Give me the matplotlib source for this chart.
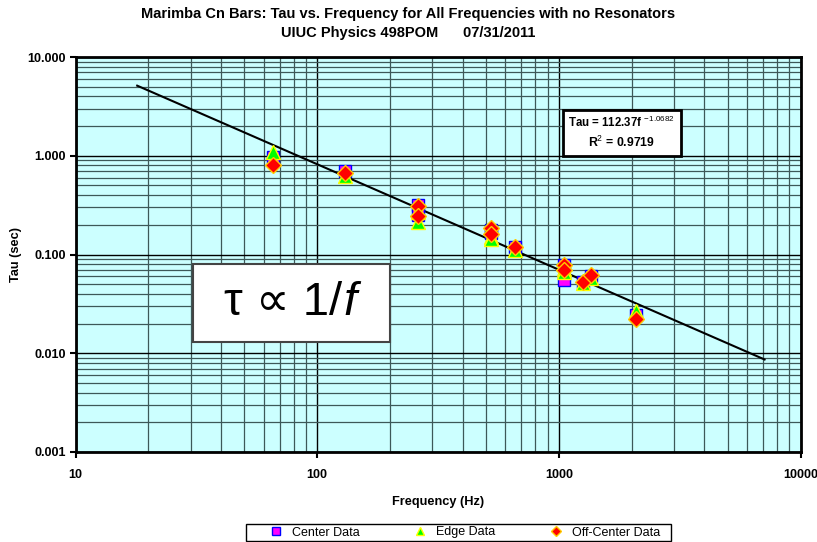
import matplotlib
matplotlib.use("Agg")
import matplotlib.pyplot as plt
from matplotlib.patches import Rectangle
from matplotlib.ticker import LogLocator, FixedLocator, NullFormatter
import numpy as np

plt.rcParams['font.family'] = ['Liberation Sans', 'DejaVu Sans']
plt.rcParams['mathtext.fontset'] = 'custom'
plt.rcParams['mathtext.rm'] = 'Liberation Sans'
plt.rcParams['mathtext.it'] = 'Liberation Sans:italic'
plt.rcParams['mathtext.bf'] = 'Liberation Sans:bold'
plt.rcParams['axes.unicode_minus'] = False

# ---- data ----
freq = [65.4, 130.8, 261.6, 261.6, 523.3, 523.3, 659.3, 1046.5, 1046.5, 1260, 1355, 2093]
tau_center = [0.98, 0.70, 0.318, 0.25, 0.175, 0.165, 0.12, 0.0785, 0.0553, 0.053, 0.060, 0.0245]
tau_edge = [1.10, 0.63, 0.27, 0.215, 0.15, 0.145, 0.112, 0.072, 0.066, 0.051, 0.058, 0.0265]
tau_off = [0.81, 0.67, 0.31, 0.245, 0.1845, 0.162, 0.119, 0.0785, 0.070, 0.0532, 0.0621, 0.0221]

fit_a = 112.37
fit_b = -1.0682
fit_r2 = 0.9719
fit_range = [18, 7100]

xticks = [10, 100, 1000, 10000]
xtick_labels = ["10", "100", "1000", "10000"]
yticks = [0.001, 0.01, 0.1, 1, 10]
ytick_labels = ["0.001", "0.010", "0.100", "1.000", "10.000"]

fig = plt.figure(figsize=(8.17, 5.42), dpi=100)
ax = fig.add_axes([75.5/817, 1-452/542, 725/817, 395/542])
ax.set_facecolor('#CCFFFF')
ax.set_xscale('log')
ax.set_yscale('log')
ax.set_xlim(10, 10000)
ax.set_ylim(0.001, 10)

ax.xaxis.set_major_locator(FixedLocator(xticks))
ax.yaxis.set_major_locator(FixedLocator(yticks))
ax.set_xticklabels(xtick_labels, fontsize=9, fontweight='bold')
ax.set_yticklabels(ytick_labels, fontsize=9, fontweight='bold')
ax.xaxis.set_minor_locator(LogLocator(base=10, subs=np.arange(2, 10)))
ax.yaxis.set_minor_locator(LogLocator(base=10, subs=np.arange(2, 10)))
ax.xaxis.set_minor_formatter(NullFormatter())
ax.yaxis.set_minor_formatter(NullFormatter())
ax.tick_params(which='major', direction='out', length=4, width=1.5, pad=8)
ax.tick_params(which='minor', length=0)
ax.tick_params(axis='y', pad=3)

ax.grid(which='major', color='black', linewidth=1.0)
ax.grid(which='minor', color='#3d5858', linewidth=0.9)
ax.set_axisbelow(True)
for s in ax.spines.values():
    s.set_linewidth(2)
    s.set_color('black')

# trendline
fx = np.geomspace(fit_range[0], fit_range[1], 200)
ax.plot(fx, fit_a * fx ** fit_b, color='black', lw=1.5, zorder=3)

ax.plot(freq, tau_center, linestyle='none', marker='s', ms=9, mfc='#FF00FF', mec='#0000FF',
        mew=1, label='Center Data', zorder=4)
ax.plot(freq, tau_edge, linestyle='none', marker='^', ms=9.5, mfc='#00FF00', mec='#FFFF00',
        mew=1, label='Edge Data', zorder=5)
ax.plot(freq, tau_off, linestyle='none', marker='D', ms=8, mfc='#FF0000', mec='#FFCC00',
        mew=1, label='Off-Center Data', zorder=6)

ax.set_xlabel('Frequency (Hz)', fontsize=9.2, fontweight='bold', labelpad=11)
ax.set_ylabel('Tau (sec)', fontsize=9.2, fontweight='bold', labelpad=4)

fig.text(0.5, 1-14/542, 'Marimba Cn Bars: Tau vs. Frequency for All Frequencies with no Resonators',
         ha='center', va='center', fontsize=10.5, fontweight='bold')
fig.text(0.5, 1-33/542, 'UIUC Physics 498POM      07/31/2011',
         ha='center', va='center', fontsize=10.5, fontweight='bold')

# equation box
fig.patches.append(Rectangle((563/817, 1-156/542), 118/817, 46/542, transform=fig.transFigure,
                             facecolor='white', edgecolor='black', linewidth=2, zorder=10))
fig.text(621/817, 1-122/542, r'Tau = %.2ff $^{\mathrm{%.4f}}$' % (fit_a, fit_b),
         ha='center', va='center', fontsize=8.3, fontweight='bold', zorder=11)
fig.text(621/817, 1-142/542, r'R$^{\mathrm{2}}$ = %.4f' % fit_r2,
         ha='center', va='center', fontsize=8.8, fontweight='bold', zorder=11)

# tau prop 1/f box
fig.patches.append(Rectangle((193/817, 1-342/542), 197/817, 78/542, transform=fig.transFigure,
                             facecolor='white', edgecolor='#444444', linewidth=1.5, zorder=10))
t1 = fig.text(224/817, 1-303/542, 'τ ∝ 1/', ha='left', va='center',
              fontsize=34, family=['Liberation Sans', 'DejaVu Sans'], zorder=11)
fig.canvas.draw()
bb = t1.get_window_extent()
fig.text(bb.x1/817 + 1/817, 1-303/542, 'f', ha='left', va='center', fontsize=34,
         style='italic', family='Liberation Sans', zorder=11)

# legend
fig.patches.append(Rectangle((246/817, 1-541/542), 425/817, 17/542, transform=fig.transFigure,
                             facecolor='white', edgecolor='black', linewidth=1, zorder=1))
leg = fig.legend(loc='center', bbox_to_anchor=(465/817, 1-532.5/542), ncol=3,
                 fontsize=9, frameon=False, markerscale=0.6, handlelength=1.0,
                 handletextpad=0.8, columnspacing=4.3, borderpad=0.2)

fig.savefig('out.png', dpi=100)
